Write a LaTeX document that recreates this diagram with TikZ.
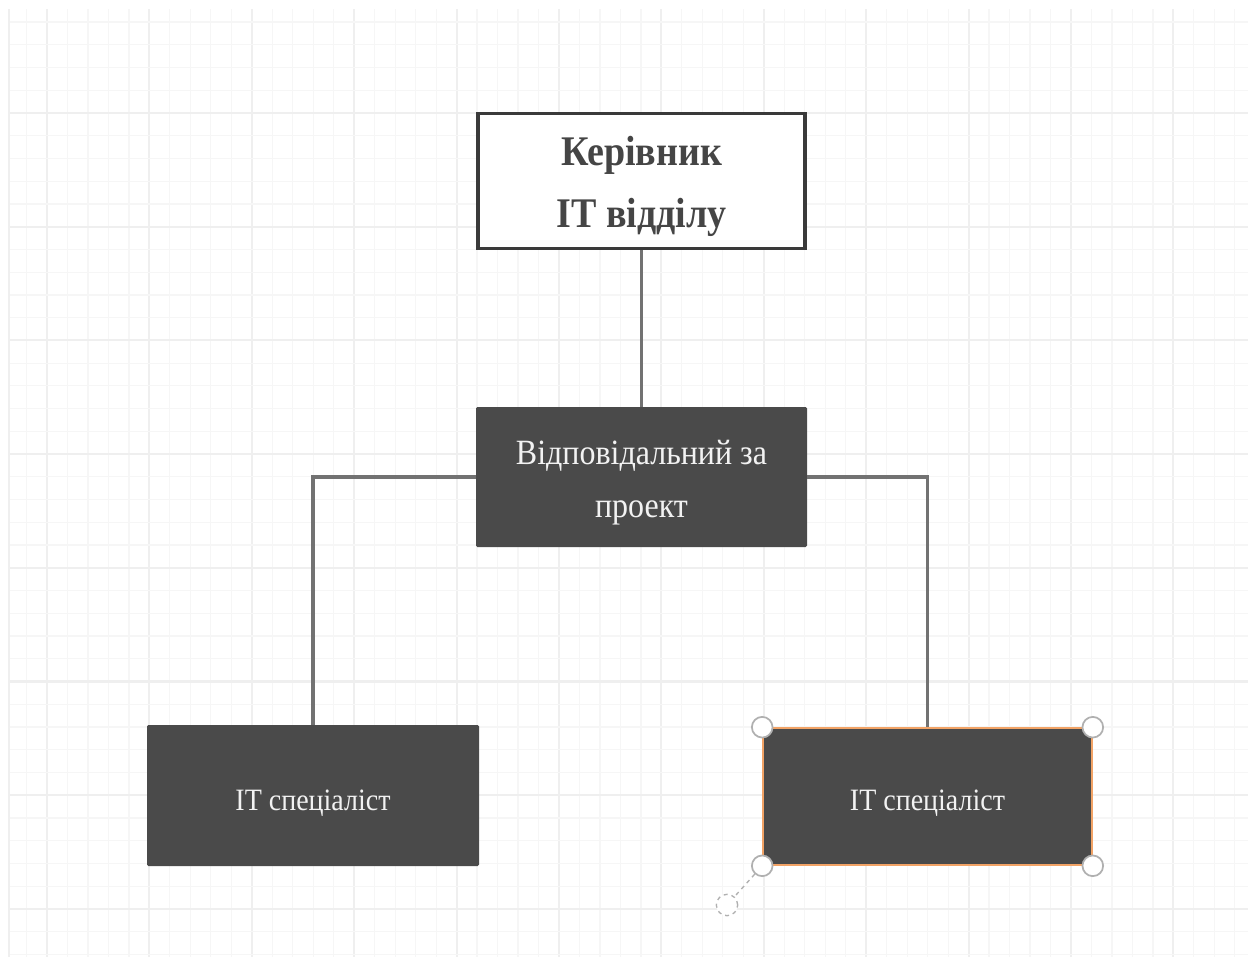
\documentclass[tikz,border=0pt]{standalone}
\usepackage{fontspec}
\setmainfont{Liberation Serif}
\usepackage{graphicx}
\usetikzlibrary{calc}
\definecolor{gridminor}{HTML}{F6F6F6}
\definecolor{gridmajor}{HTML}{EFEFEF}
\definecolor{boxfill}{HTML}{4A4A4A}
\definecolor{linegray}{HTML}{727272}
\definecolor{headborder}{HTML}{3A3A3A}
\definecolor{headtext}{HTML}{454545}
\definecolor{lighttext}{HTML}{F2F2F2}
\definecolor{selorange}{HTML}{F2A366}
\definecolor{handlegray}{HTML}{B0B0B0}
\newcommand\boxtext[4]{\raisebox{#4}[\height][\depth]{\scalebox{1}[1.11]{\fontsize{#1}{#2}\selectfont\begin{tabular}{@{}c@{}}#3\end{tabular}}}}
\tikzset{
  headbox/.style={draw=headborder, line width=2.3pt, fill=white, text=headtext, inner sep=0pt},
  darkbox/.style={draw=none, fill=boxfill, text=lighttext, inner sep=0pt, rounded corners=1pt},
  conn/.style={draw=linegray, line width=2.7pt},
  handle/.style={circle, draw=handlegray, line width=1.3pt, fill=white, minimum size=15.5pt, inner sep=0pt},
  ghost/.style={circle, draw=handlegray, dashed, line width=1pt, fill=white, minimum size=16pt, inner sep=0pt}
}
\begin{document}
\begin{tikzpicture}[x=0.75pt, y=-0.75pt]
\useasboundingbox (0,0) rectangle (1248,957);
\fill[white] (0,0) rectangle (1248,957);
% grid
\foreach \i in {-1,...,58}{
  \pgfmathsetmacro\gx{47+20.48*\i}
  \pgfmathtruncatemacro\m{mod(\i,5)}
  \ifnum\m=0
    \draw[gridmajor, line width=1.6pt] (\gx,9) -- (\gx,957);
  \else
    \draw[gridminor, line width=0.9pt] (\gx,9) -- (\gx,957);
  \fi
}
\foreach \j in {-4,...,37}{
  \pgfmathsetmacro\gy{113+22.74*\j}
  \pgfmathtruncatemacro\m{mod(\j,5)}
  \ifnum\m=0
    \draw[gridmajor, line width=1.6pt] (9,\gy) -- (1248,\gy);
  \else
    \draw[gridminor, line width=0.9pt] (9,\gy) -- (1248,\gy);
  \fi
}
\draw[gridmajor, line width=1.6pt] (9,9) -- (9,957);

% nodes
\node[headbox, minimum width=245.25pt, minimum height=101.25pt] (head) at (641.5,181)
  {\boxtext{28.5}{42}{\bfseries Керівник\\\bfseries IT відділу}{-2.5pt}};
\node[darkbox, minimum width=248.25pt, minimum height=105pt] (pm) at (641.5,477)
  {\boxtext{24}{36}{Відповідальний за\\проект}{-2.5pt}};
\node[darkbox, minimum width=249pt, minimum height=105.75pt] (it1) at (313,795.5)
  {\boxtext{21}{30}{IT спеціаліст}{-4.5pt}};
\node[darkbox, draw=selorange, line width=1.2pt, minimum width=246.75pt, minimum height=102.75pt] (it2) at (927.5,796.5)
  {\boxtext{21}{30}{IT спеціаліст}{-3.5pt}};

% connectors
\draw[conn] (head.south) -- (pm.north);
\draw[conn] (pm.west) -| (it1.north);
\draw[conn] (pm.east) -| (it2.north);

% selection handles
\node[handle] (hnw) at (it2.north west) {};
\node[handle] (hne) at (it2.north east) {};
\node[handle] (hsw) at (it2.south west) {};
\node[handle] (hse) at (it2.south east) {};
\node[ghost] (rot) at (727,905) {};
\draw[handlegray, dashed, line width=1pt] (hsw) -- (rot);
\end{tikzpicture}
\end{document}
